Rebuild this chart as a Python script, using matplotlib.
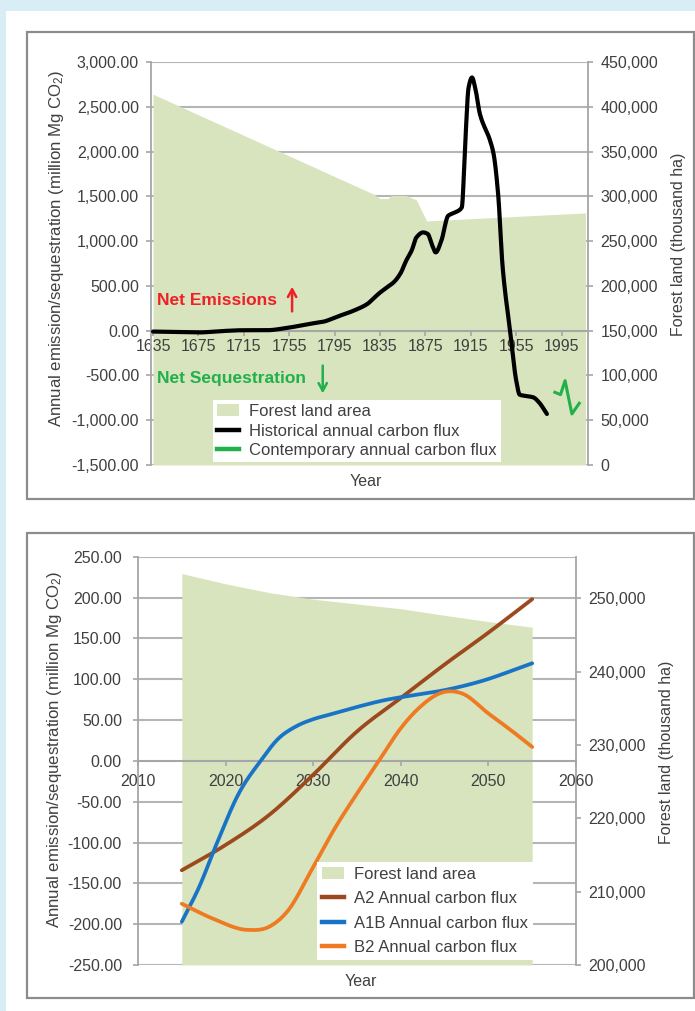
import numpy as np
import matplotlib
matplotlib.use("Agg")
import matplotlib.pyplot as plt
import matplotlib.transforms as mtransforms
from matplotlib.patches import Rectangle, Patch
from matplotlib.lines import Line2D
from matplotlib.ticker import FuncFormatter, FixedLocator

plt.rcParams['font.family'] = ['Liberation Sans', 'DejaVu Sans']
plt.rcParams['mathtext.fontset'] = 'custom'
plt.rcParams['mathtext.rm'] = 'Liberation Sans'

# ---------------- data: historical chart ----------------
forest_hist_years = [1635, 1830, 1835, 1842, 1845, 1858, 1867, 1876, 2016]
forest_hist_area = [414000, 302000, 297500, 297500, 301000, 301000, 296000, 272500, 281500]

hist_years = [1635, 1655, 1675, 1695, 1715, 1735, 1755, 1775, 1785, 1797, 1813, 1824,
              1829, 1834, 1841, 1847, 1853, 1858, 1863, 1867, 1873, 1877, 1881, 1884,
              1889, 1895, 1901, 1907, 1910, 1913, 1916, 1919, 1923, 1932, 1935, 1939,
              1943, 1949.5, 1955, 1958, 1964, 1970, 1975, 1982]
hist_flux = [-10, -15, -20, -5, 5, 5, 35, 80, 100, 155, 230, 300,
             357, 415, 483, 540, 640, 781, 900, 1041, 1097, 1080, 950, 874,
             1005, 1283, 1320, 1376, 2087, 2715, 2827, 2700, 2418, 2120, 1975, 1529,
             710, 0, -560, -715, -730, -745, -800, -930]

contemp_years = [1989, 1994, 1998, 2004, 2010.5]
contemp_flux = [-688, -714, -558, -930, -811]

hist_xticks = [1635, 1675, 1715, 1755, 1795, 1835, 1875, 1915, 1955, 1995]
hist_left_ticks = [-1500, -1000, -500, 0, 500, 1000, 1500, 2000, 2500, 3000]
hist_right_ticks = [0, 50000, 100000, 150000, 200000, 250000, 300000, 350000, 400000, 450000]

# ---------------- data: projection chart ----------------
forest_proj_years = [2015, 2020, 2025, 2030, 2035, 2040, 2045, 2050, 2055]
forest_proj_area = [253400, 252000, 250800, 249900, 249250, 248600, 247700, 246850, 246080]

a2_years = [2015, 2020, 2025, 2030, 2035, 2040, 2045, 2050, 2055]
a2_flux = [-134, -103, -66, -17, 36, 77, 118, 157, 198]

a1b_years = [2015, 2017, 2019, 2021.5, 2024, 2026, 2028, 2030, 2032, 2035, 2038,
             2041.5, 2045, 2049, 2055]
a1b_flux = [-197, -154, -101, -40, 0, 27, 42, 51, 57, 66, 74, 80.5, 86.6, 97, 119.5]

b2_years = [2015, 2018.5, 2022.5, 2025, 2027, 2030, 2032.5, 2035, 2037.5, 2040, 2042,
            2045, 2047, 2050, 2053, 2055]
b2_flux = [-175, -193, -207, -203, -185, -130, -82, -40, 0, 40, 64,
           84.5, 82.5, 58, 34, 17]

proj_xticks = [2010, 2020, 2030, 2040, 2050, 2060]
proj_left_ticks = [-250, -200, -150, -100, -50, 0, 50, 100, 150, 200, 250]
proj_right_ticks = [200000, 210000, 220000, 230000, 240000, 250000]

# ---------------- styling ----------------
AREA = '#d7e4bd'
GRID = '#b5b5b5'
SPINE = '#a6a6a6'
TXT = '#404040'
FS = 11.5
LFS = 12
W, H = 695, 1011


def smooth(xs, ys, monotone=True, n=24):
    """Cubic Hermite curve through the points for a smoothed line.

    monotone=True uses PCHIP slopes (no overshoot at sharp turns);
    otherwise three-point parabolic slopes give a softer curve."""
    x = np.asarray(xs, float)
    y = np.asarray(ys, float)
    h = np.diff(x)
    d = np.diff(y) / h
    m = np.zeros_like(y)
    m[0], m[-1] = d[0], d[-1]
    for i in range(1, len(y) - 1):
        if monotone:
            if d[i - 1] * d[i] <= 0:
                m[i] = 0.0
            else:
                w1 = 2 * h[i] + h[i - 1]
                w2 = h[i] + 2 * h[i - 1]
                m[i] = (w1 + w2) / (w1 / d[i - 1] + w2 / d[i])
        else:
            m[i] = (d[i - 1] * h[i] + d[i] * h[i - 1]) / (h[i - 1] + h[i])
    px, py = [], []
    for i in range(len(h)):
        t = np.linspace(0, 1, n)
        if i > 0:
            t = t[1:]
        h00 = 2 * t ** 3 - 3 * t ** 2 + 1
        h10 = t ** 3 - 2 * t ** 2 + t
        h01 = -2 * t ** 3 + 3 * t ** 2
        h11 = t ** 3 - t ** 2
        px.append(x[i] + t * h[i])
        py.append(h00 * y[i] + h10 * h[i] * m[i] + h01 * y[i + 1] + h11 * h[i] * m[i + 1])
    return np.concatenate(px), np.concatenate(py)


def fx(x):
    return x / W


def fy(y):
    return 1 - y / H


fig = plt.figure(figsize=(W / 100, H / 100), dpi=100)
fig.patch.set_facecolor('#d9edf7')
fig.add_artist(Rectangle((fx(6), 0), 1, fy(11), transform=fig.transFigure,
                         facecolor='white', edgecolor='none', zorder=-10))
for (x0, y0, x1, y1) in [(27, 32, 694, 499), (27, 533, 694, 998)]:
    fig.add_artist(Rectangle((fx(x0), fy(y1)), fx(x1 - x0), (y1 - y0) / H,
                             transform=fig.transFigure, facecolor='none',
                             edgecolor='#8c8c8c', lw=1.6, zorder=-5))


def setup(ax1, ax2, left_ticks, right_ticks, xticks, left_fmt, right_fmt,
          lpad, rpad):
    ax1.set_zorder(2)
    ax2.set_zorder(1)
    ax1.patch.set_visible(False)
    for s in ['top', 'right']:
        ax1.spines[s].set_visible(False)
    for s in ['top', 'left', 'bottom']:
        ax2.spines[s].set_visible(False)
    ax1.spines['left'].set_color(SPINE)
    ax1.spines['left'].set_linewidth(1.3)
    ax1.spines['bottom'].set_position(('data', 0))
    ax1.spines['bottom'].set_color(SPINE)
    ax1.spines['bottom'].set_linewidth(1.5)
    ax1.spines['bottom'].set_zorder(1.5)
    ax2.spines['right'].set_color(SPINE)
    ax2.spines['right'].set_linewidth(1.3)
    ax1.yaxis.set_major_locator(FixedLocator(left_ticks))
    ax2.yaxis.set_major_locator(FixedLocator(right_ticks))
    ax1.xaxis.set_major_locator(FixedLocator(xticks))
    ax1.yaxis.set_major_formatter(FuncFormatter(left_fmt))
    ax2.yaxis.set_major_formatter(FuncFormatter(right_fmt))
    ax1.xaxis.set_major_formatter(FuncFormatter(lambda v, p: f"{int(round(v))}"))
    ax1.tick_params(axis='y', direction='out', length=3.6, width=1.2, color=SPINE,
                    labelsize=FS, labelcolor=TXT, pad=lpad)
    ax2.tick_params(axis='y', direction='out', length=3.6, width=1.2, color=SPINE,
                    labelsize=FS, labelcolor=TXT, pad=rpad)
    ax1.tick_params(axis='x', direction='out', length=3.6, width=1.2, color=SPINE,
                    labelsize=FS, labelcolor=TXT, pad=2.5)
    # horizontal gridlines at the left-axis ticks, kept behind the forest area
    trans = mtransforms.blended_transform_factory(ax2.transAxes, ax1.transData)
    ax2.hlines([v for v in left_ticks if v != 0], 0, 1, transform=trans,
               color=GRID, lw=1.5, zorder=0.5)


def arrow(ax, x, y0, y1, color):
    ax.annotate('', xy=(x, y1), xytext=(x, y0),
                arrowprops=dict(arrowstyle='->,head_length=0.55,head_width=0.3',
                                color=color, lw=1.8, shrinkA=0, shrinkB=0),
                zorder=4)


# ---------------- historical chart ----------------
ax1 = fig.add_axes([fx(151), fy(465), (588 - 151) / W, (465 - 62) / H])
ax2 = ax1.twinx()
ax1.set_xlim(1633.2, 2018.2)
ax1.set_ylim(-1500, 3000)
ax2.set_ylim(0, 450000)
setup(ax1, ax2, hist_left_ticks, hist_right_ticks, hist_xticks,
      lambda v, p: f"{v:,.2f}", lambda v, p: f"{v:,.0f}", 5.0, 5.5)

ax2.fill_between(forest_hist_years, 0, forest_hist_area, color=AREA, lw=0, zorder=1)
sx, sy = smooth(hist_years, hist_flux)
ax1.plot(sx, sy, color='black', lw=3.0, solid_capstyle='round', zorder=3)
ax1.plot(contemp_years, contemp_flux, color='#22b04b', lw=2.2, zorder=3)

ax1.text(1638.5, 335, "Net Emissions", color='#ee2028', fontsize=12.5,
         fontweight='bold', va='center', ha='left', zorder=4)
ax1.text(1638.5, -536, "Net Sequestration", color='#22b04b', fontsize=12.5,
         fontweight='bold', va='center', ha='left', zorder=4)
arrow(ax1, 1757.5, 215, 490, '#ee2028')
arrow(ax1, 1784.5, -390, -700, '#22b04b')

leg1 = ax1.legend(handles=[Patch(facecolor=AREA, edgecolor='none'),
                           Line2D([], [], color='black', lw=3.2),
                           Line2D([], [], color='#22b04b', lw=3.2)],
                  labels=["Forest land area", "Historical annual carbon flux",
                          "Contemporary annual carbon flux"],
                  loc='upper left', bbox_to_anchor=(fx(213), fy(400)),
                  bbox_transform=fig.transFigure, borderaxespad=0, fontsize=LFS,
                  frameon=True, fancybox=False, framealpha=1, edgecolor='none',
                  facecolor='white', handlelength=1.3, handletextpad=0.6,
                  labelspacing=0.26, borderpad=0.25)
for t in leg1.get_texts():
    t.set_color(TXT)
leg1.set_zorder(5)

fig.text(fx(57), fy(248), "Annual emission/sequestration (million Mg CO$\\mathregular{_2}$)",
         rotation=90, ha='center', va='center', fontsize=12.1, color=TXT)
fig.text(fx(678), fy(244), "Forest land (thousand ha)", rotation=90,
         ha='center', va='center', fontsize=FS, color=TXT)
fig.text(fx(366), fy(482), "Year", ha='center', va='center', fontsize=FS, color=TXT)

# ---------------- projection chart ----------------
bx1 = fig.add_axes([fx(138), fy(965), (576 - 138) / W, (965 - 556.7) / H])
bx2 = bx1.twinx()
bx1.set_xlim(2010, 2060)
bx1.set_ylim(-250, 250)
bx2.set_ylim(200000, 255700)
setup(bx1, bx2, proj_left_ticks, proj_right_ticks, proj_xticks,
      lambda v, p: f"{v:,.2f}", lambda v, p: f"{v:,.0f}", 8.0, 5.5)
bx1.tick_params(axis='x', pad=6)

bx2.fill_between(forest_proj_years, 200000, forest_proj_area, color=AREA, lw=0, zorder=1)
for yrs, vals, col in [(a2_years, a2_flux, '#9c4a1d'),
                       (a1b_years, a1b_flux, '#1a74c6'),
                       (b2_years, b2_flux, '#ee7a22')]:
    sx, sy = smooth(yrs, vals, monotone=False)
    bx1.plot(sx, sy, color=col, lw=2.7, solid_capstyle='round', zorder=3)

leg2 = bx1.legend(handles=[Patch(facecolor=AREA, edgecolor='none'),
                           Line2D([], [], color='#9c4a1d', lw=3.2),
                           Line2D([], [], color='#1a74c6', lw=3.2),
                           Line2D([], [], color='#ee7a22', lw=3.2)],
                  labels=["Forest land area", "A2 Annual carbon flux",
                          "A1B Annual carbon flux", "B2 Annual carbon flux"],
                  loc='upper left', bbox_to_anchor=(fx(317), fy(862)),
                  bbox_transform=fig.transFigure, borderaxespad=0, fontsize=LFS,
                  frameon=True, fancybox=False, framealpha=1, edgecolor='none',
                  facecolor='white', handlelength=1.3, handletextpad=0.6,
                  labelspacing=0.56, borderpad=0.3)
for t in leg2.get_texts():
    t.set_color(TXT)
leg2.set_zorder(5)

fig.text(fx(55), fy(749), "Annual emission/sequestration (million Mg CO$\\mathregular{_2}$)",
         rotation=90, ha='center', va='center', fontsize=12.1, color=TXT)
fig.text(fx(667), fy(752), "Forest land (thousand ha)", rotation=90,
         ha='center', va='center', fontsize=FS, color=TXT)
fig.text(fx(361), fy(982), "Year", ha='center', va='center', fontsize=FS, color=TXT)

fig.savefig("out.png", dpi=100)
